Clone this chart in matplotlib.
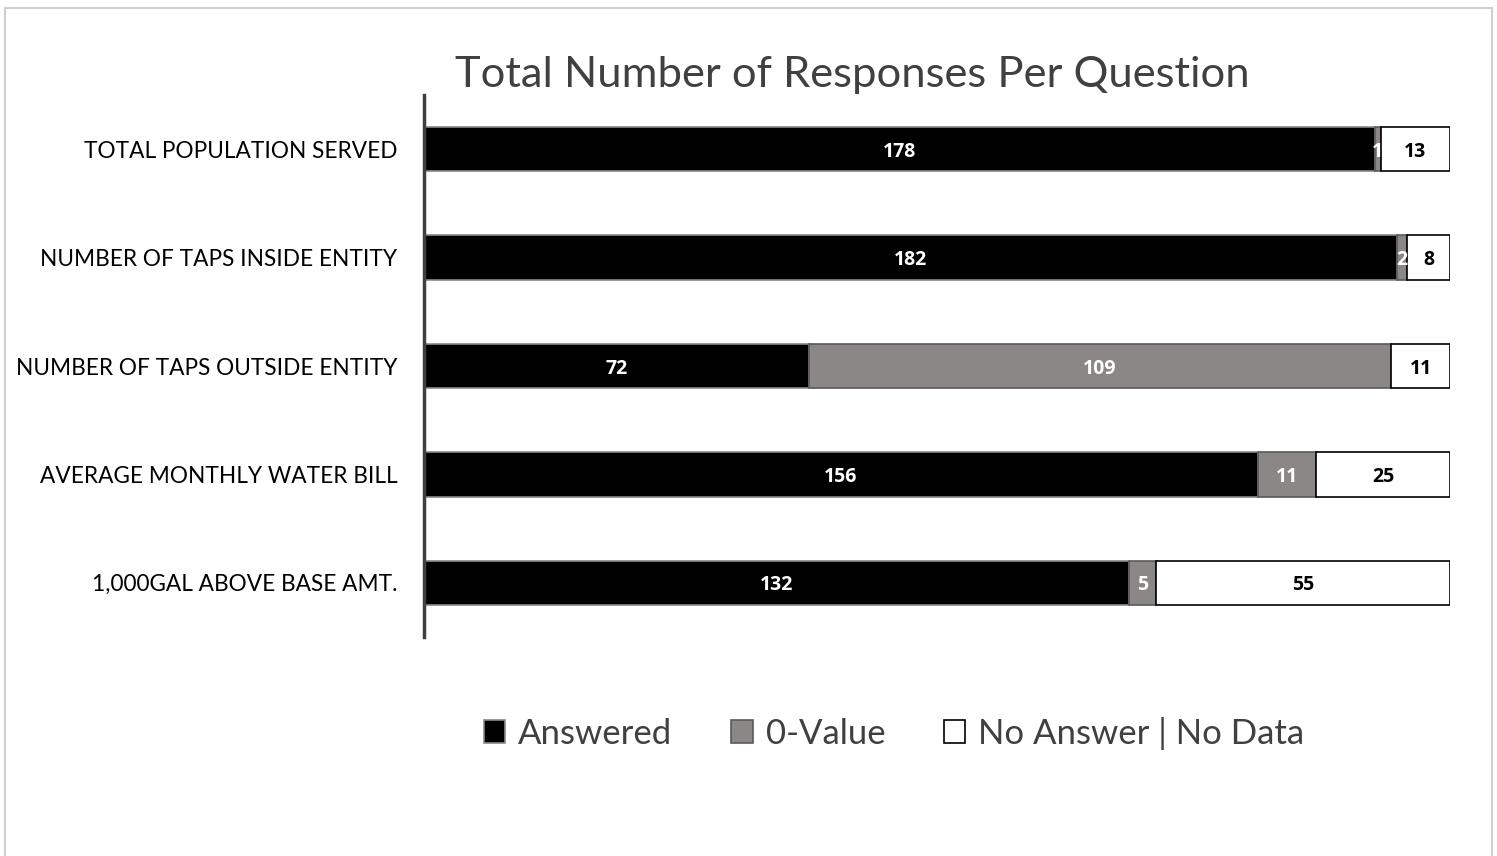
import matplotlib
matplotlib.use("Agg")
import matplotlib.pyplot as plt
from matplotlib.patches import Rectangle
import numpy as np

categories = ["TOTAL POPULATION SERVED", "NUMBER OF TAPS INSIDE ENTITY",
              "NUMBER OF TAPS OUTSIDE ENTITY", "AVERAGE MONTHLY WATER BILL",
              "1,000GAL ABOVE BASE AMT."]
answered = [178, 182, 72, 156, 132]
zero_value = [1, 2, 109, 11, 5]
no_answer = [13, 8, 11, 25, 55]
series_names = ["Answered", "0-Value", "No Answer | No Data"]
title = "Total Number of Responses Per Question"

FONT = ["Lato", "DejaVu Sans"]
plt.rcParams['font.family'] = FONT

fig = plt.figure(figsize=(14.97, 8.56), dpi=100)
fig.patches.append(Rectangle((5/1497, -0.01), (1492-5)/1497, 1 - 8/856 + 0.01,
                             transform=fig.transFigure, fill=False,
                             edgecolor="#d0d0d0", linewidth=1.5))

ax = fig.add_axes([424/1497, (856-637)/856, (1450-424)/1497, 542/856])

y = np.arange(len(categories))
h = 0.41
fills = ["#000000", "#8b8786", "#ffffff"]
edges = ["#8a8a8a", "#5a5a5a", "#000000"]
txtcol = ["white", "white", "black"]
data = [answered, zero_value, no_answer]
left = np.zeros(len(categories))
handles = []
for i, vals in enumerate(data):
    vals = np.array(vals, dtype=float)
    bars = ax.barh(y, vals, left=left, height=h, color=fills[i],
                   edgecolor=edges[i], linewidth=1.2, label=series_names[i])
    handles.append(bars)
    for yy, l, v in zip(y, left, vals):
        ax.text(l + v/2, yy, f"{int(v)}", ha="center", va="center_baseline",
                color=txtcol[i], fontsize=14, fontweight="bold",
                family=["Open Sans", "DejaVu Sans"])
    left += vals

total = max(left)
ax.set_xlim(0, total)
ax.set_ylim(len(categories) - 0.5, -0.5)
ax.set_yticks(y)
ax.set_yticklabels(categories, fontsize=16.3, color="#000000")
ax.tick_params(axis="y", length=0, pad=19)
ax.set_xticks([])
for s in ["top", "right", "bottom"]:
    ax.spines[s].set_visible(False)
ax.spines["left"].set_color("#404040")
ax.spines["left"].set_linewidth(2.5)

fig.text(852/1497, 1 - 75/856, title, ha="center", va="center",
         fontsize=31.3, color="#404040")

leg = fig.legend(handles=handles, labels=series_names, loc="center",
                 bbox_to_anchor=(894/1497, 1 - 733/856), ncol=3, frameon=False,
                 fontsize=25, labelcolor="#404040", handlelength=0.63,
                 handleheight=0.63, handletextpad=0.37, columnspacing=1.68)

fig.savefig("out.png", dpi=100)
